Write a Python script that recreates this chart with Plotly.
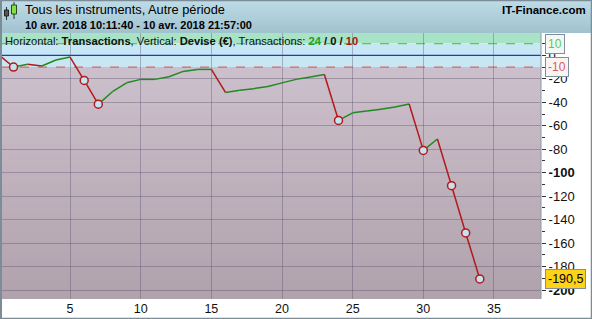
import plotly.graph_objects as go

# ---------------- data ----------------
trade_index = list(range(0, 35))
equity = [0, -10, -7.7, -9.1, -4.0, -1.5, -21.4, -41.6, -31.0, -23.4,
          -20.5, -20.5, -18.3, -13.7, -12.0, -12.0, -31.6, -29.8, -28.4, -26.5,
          -23.5, -20.5, -18.5, -16.3, -55.5, -49.0, -47.5, -46.0, -44.0, -41.5,
          -81.0, -71.3, -111.1, -151.3, -190.5]
x_tick_vals = [5, 10, 15, 20, 25, 30, 35]
y_tick_vals = [0, -20, -40, -60, -80, -100, -120, -140, -160, -180, -200]
y_tick_text = ["0", "-20", "-40", "-60", "-80", "<b>-100</b>", "-120", "-140", "-160", "-180", "<b>-200</b>"]
upper_level = 10
lower_level = -10
last_label = "-190,5"
title_line1 = "Tous les instruments, Autre période"
title_line2 = "10 avr. 2018 10:11:40 - 10 avr. 2018 21:57:00"
brand = "IT-Finance.com"
wins, neutral, losses = 24, 0, 10

# ---------------- geometry ----------------
W, H = 592, 319
ML, MR, MT, MB = 2, 51, 33, 20
PW, PH = W - ML - MR, H - MT - MB
XR = [0.184, 38.33]
YR = [-207.6, 19.0]


def xp(px):
    return (px - ML) / PW


def yp(py):
    return (H - MB - py) / PH


FONT = "Liberation Sans, Arial, sans-serif"
GREEN = "#1f8a1f"
RED = "#b3191c"

fig = go.Figure()

# segments colored by direction
gx, gy, rx, ry = [], [], [], []
for i in range(1, len(equity)):
    if equity[i] >= equity[i - 1]:
        gx += [trade_index[i - 1], trade_index[i], None]
        gy += [equity[i - 1], equity[i], None]
    else:
        rx += [trade_index[i - 1], trade_index[i], None]
        ry += [equity[i - 1], equity[i], None]
fig.add_trace(go.Scatter(x=gx, y=gy, mode="lines", line=dict(color=GREEN, width=1.5),
                         hoverinfo="skip", showlegend=False))
fig.add_trace(go.Scatter(x=rx, y=ry, mode="lines", line=dict(color=RED, width=1.5),
                         hoverinfo="skip", showlegend=False))

# markers at new drawdown lows
mx, my = [], []
running_min = 0
for i in range(1, len(equity)):
    if equity[i] < equity[i - 1] and equity[i] < running_min:
        mx.append(trade_index[i])
        my.append(equity[i])
    running_min = min(running_min, equity[i])
fig.add_trace(go.Scatter(x=mx, y=my, mode="markers",
                         marker=dict(size=8, color="#c6e2ee", line=dict(color=RED, width=1.5)),
                         hoverinfo="skip", showlegend=False))

shapes = []
# background bands
shapes.append(dict(type="rect", xref="paper", yref="y", x0=0, x1=1, y0=upper_level, y1=YR[1],
                   fillcolor="#a9e3c6", line_width=0, layer="below"))
shapes.append(dict(type="rect", xref="paper", yref="y", x0=0, x1=1, y0=lower_level, y1=upper_level,
                   fillcolor="#c8e7f4", line_width=0, layer="below"))
N = 24
top_c = (204, 192, 204)
bot_c = (176, 162, 172)
span = YR[0] - lower_level
for k in range(N):
    t = (k + 0.5) / N
    c = tuple(int(round(top_c[j] + (bot_c[j] - top_c[j]) * t)) for j in range(3))
    y_top = lower_level + span * k / N
    shapes.append(dict(type="rect", xref="paper", yref="y", x0=0, x1=1, y0=YR[0] - 5, y1=y_top,
                       fillcolor="rgb(%d,%d,%d)" % c, line_width=0, layer="below"))
# level lines
shapes.append(dict(type="line", xref="paper", yref="y", x0=0, x1=1, y0=upper_level, y1=upper_level,
                   line=dict(color="#4fd04f", width=1.2, dash="dash"), layer="below"))
shapes.append(dict(type="line", xref="paper", yref="y", x0=0, x1=1, y0=lower_level, y1=lower_level,
                   line=dict(color="#d46a6a", width=1.2, dash="dash"), layer="below"))
shapes.append(dict(type="line", xref="paper", yref="y", x0=0, x1=1, y0=0, y1=0,
                   line=dict(color="#2233bb", width=1.3), layer="below"))

# header gradient
NH = 12
h_top = (190, 220, 232)
h_bot = (160, 194, 206)
for k in range(NH):
    t = (k + 0.5) / NH
    c = tuple(int(round(h_top[j] + (h_bot[j] - h_top[j]) * t)) for j in range(3))
    shapes.append(dict(type="rect", xref="paper", yref="paper",
                       x0=xp(0), x1=xp(W), y0=yp(MT), y1=yp(MT * k / NH),
                       fillcolor="rgb(%d,%d,%d)" % c, line_width=0, layer="below"))
# plot border at right
shapes.append(dict(type="line", xref="paper", yref="paper", x0=1, x1=1, y0=0, y1=1,
                   line=dict(color="#8a9aa6", width=1)))
# outer frame
shapes.append(dict(type="rect", xref="paper", yref="paper", x0=xp(0.5), x1=xp(W - 0.5),
                   y0=yp(H - 0.5), y1=yp(0.5), line=dict(color="#7d8d98", width=1.5)))
shapes.append(dict(type="line", xref="paper", yref="paper", x0=xp(1), x1=xp(1),
                   y0=yp(H), y1=yp(0), line=dict(color="#7d8d98", width=2)))

# icon: two candles
shapes.append(dict(type="line", xref="paper", yref="paper", x0=xp(6.5), x1=xp(6.5), y0=yp(20), y1=yp(7),
                   line=dict(color="#333333", width=1)))
shapes.append(dict(type="rect", xref="paper", yref="paper", x0=xp(4.5), x1=xp(8.5), y0=yp(16), y1=yp(10),
                   fillcolor="#555555", line=dict(color="#222222", width=1)))
shapes.append(dict(type="line", xref="paper", yref="paper", x0=xp(14), x1=xp(14), y0=yp(19), y1=yp(2),
                   line=dict(color="#333333", width=1)))
shapes.append(dict(type="rect", xref="paper", yref="paper", x0=xp(11.5), x1=xp(16.5), y0=yp(14), y1=yp(5),
                   fillcolor="#86e040", line=dict(color="#2a4a20", width=1)))

annotations = [
    dict(xref="paper", yref="paper", x=xp(23), y=yp(9.5), xanchor="left", yanchor="middle",
         text=title_line1, showarrow=False, font=dict(family=FONT, size=12.8, color="#000000")),
    dict(xref="paper", yref="paper", x=xp(23), y=yp(24.5), xanchor="left", yanchor="middle",
         text="<b>" + title_line2 + "</b>", showarrow=False, font=dict(family=FONT, size=11, color="#000000")),
    dict(xref="paper", yref="paper", x=xp(588), y=yp(10), xanchor="right", yanchor="middle",
         text="<b>" + brand + "</b>", showarrow=False, font=dict(family=FONT, size=11.5, color="#000000")),
    dict(xref="paper", yref="paper", x=xp(3), y=yp(40.5), xanchor="left", yanchor="middle",
         text=("Horizontal: <b>Transactions</b>, Vertical: <b>Devise (€)</b>, Transactions: "
               "<b><span style='color:#22a022'>%d</span> / %d / <span style='color:#b31010'>%d</span></b>"
               % (wins, neutral, losses)),
         showarrow=False, font=dict(family=FONT, size=11.2, color="#111111")),
    dict(xref="paper", yref="y", x=xp(545), y=upper_level, xanchor="left", yanchor="middle",
         text=str(upper_level), showarrow=False, bgcolor="#f4f8f4", bordercolor="#7f8f9c",
         borderwidth=1, borderpad=2, font=dict(family=FONT, size=12, color="#5ccc3c")),
    dict(xref="paper", yref="y", x=xp(545), y=lower_level, xanchor="left", yanchor="middle",
         text=str(lower_level), showarrow=False, bgcolor="#f8f4f4", bordercolor="#7f8f9c",
         borderwidth=1, borderpad=2, font=dict(family=FONT, size=12, color="#e05a5a")),
    dict(xref="paper", yref="y", x=xp(545), y=equity[-1], xanchor="left", yanchor="middle",
         text=last_label, showarrow=False, bgcolor="#ffd21a", bordercolor="#7f8f9c",
         borderwidth=1, borderpad=2, font=dict(family=FONT, size=12.5, color="#000000")),
]

fig.update_layout(
    width=W, height=H,
    margin=dict(l=ML, r=MR, t=MT, b=MB, pad=0),
    paper_bgcolor="#ffffff",
    plot_bgcolor="rgba(0,0,0,0)",
    showlegend=False,
    shapes=shapes,
    annotations=annotations,
    xaxis=dict(range=XR, tickvals=x_tick_vals, ticks="", showgrid=True,
               gridcolor="rgba(80,70,100,0.35)", gridwidth=1, zeroline=False,
               tickfont=dict(family=FONT, size=12.5, color="#111111"), showline=False, fixedrange=True),
    yaxis=dict(range=YR, side="right", tickvals=y_tick_vals, ticktext=y_tick_text,
               ticks="outside", ticklen=4, tickcolor="#333333", showgrid=True,
               gridcolor="rgba(80,70,100,0.35)", gridwidth=1, zeroline=False,
               minor=dict(tickvals=[v - 10 for v in y_tick_vals] + [10], ticks="outside", ticklen=3,
                          tickcolor="#333333", showgrid=False),
               tickfont=dict(family=FONT, size=13, color="#111111"), showline=False, fixedrange=True),
)

fig.write_html("out.html")
